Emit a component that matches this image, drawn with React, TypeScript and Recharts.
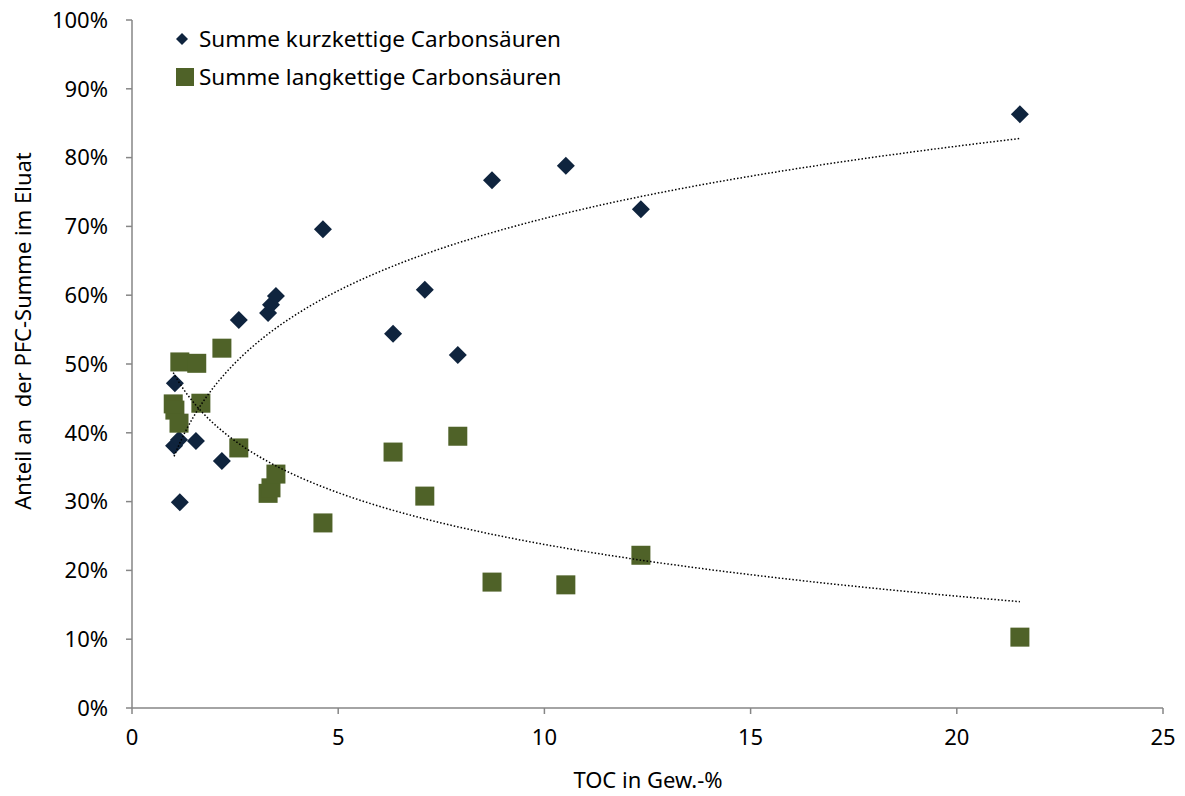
import React from 'react';
import { ScatterChart, Scatter, XAxis, YAxis, Label } from 'recharts';

// TOC (Gew.-%) und Anteil (%) – kurzkettige Carbonsäuren
const kurzX = [1.02, 1.04, 1.14, 1.16, 1.55, 2.18, 2.59, 3.3, 3.37, 3.49, 4.63, 6.33, 7.1, 7.9, 8.73, 10.52, 12.34, 21.53];
const kurzY = [38.1, 47.2, 39.0, 29.9, 38.8, 35.9, 56.4, 57.4, 58.6, 59.9, 69.6, 54.4, 60.8, 51.3, 76.7, 78.8, 72.5, 86.3];

// langkettige Carbonsäuren
const langX = [1.0, 1.04, 1.14, 1.16, 1.57, 1.67, 2.18, 2.59, 3.3, 3.37, 3.49, 4.63, 6.33, 7.1, 7.9, 8.73, 10.52, 12.34, 21.53];
const langY = [44.2, 43.3, 41.4, 50.3, 50.1, 44.3, 52.3, 37.8, 31.2, 32.0, 34.0, 26.9, 37.2, 30.8, 39.5, 18.3, 17.9, 22.2, 10.3];

const xTicks = [0, 5, 10, 15, 20, 25];
const yTicks = [0, 10, 20, 30, 40, 50, 60, 70, 80, 90, 100];

const NAVY = '#0f243e';
const OLIVE = '#4f6228';
const FONT = '"Noto Sans", sans-serif';
const FS = 22;

const toPoints = (xs: number[], ys: number[]) => xs.map((x, i) => ({ x, y: ys[i] }));

// logarithmische Trendlinie (kleinste Quadrate über ln x), wie in Excel
const logTrend = (xs: number[], ys: number[]) => {
  const lx = xs.map((x) => Math.log(x));
  const n = xs.length;
  const mx = lx.reduce((s, v) => s + v, 0) / n;
  const my = ys.reduce((s, v) => s + v, 0) / n;
  let num = 0;
  let den = 0;
  lx.forEach((v, i) => {
    num += (v - mx) * (ys[i] - my);
    den += (v - mx) * (v - mx);
  });
  const b = num / den;
  const a = my - b * mx;
  const lo = Math.min(...xs);
  const hi = Math.max(...xs);
  const pts = [];
  for (let i = 0; i <= 80; i++) {
    const x = lo * Math.pow(hi / lo, i / 80);
    pts.push({ x, y: a + b * Math.log(x) });
  }
  return pts;
};

const Diamond = (props: any) => {
  const { cx, cy } = props;
  return <path d={`M${cx},${cy - 9}L${cx + 9},${cy}L${cx},${cy + 9}L${cx - 9},${cy}Z`} fill={NAVY} />;
};

const Square = (props: any) => {
  const { cx, cy } = props;
  return <rect x={cx - 9.5} y={cy - 9.5} width={19} height={19} fill={OLIVE} />;
};

const NoDot = () => <g />;

const LegendBox = () => (
  <div
    style={{
      position: 'absolute',
      left: 175,
      top: 20,
      fontFamily: FONT,
      fontSize: 22.5,
      color: '#000',
      lineHeight: 1,
      whiteSpace: 'nowrap',
    }}
  >
    <div style={{ display: 'flex', alignItems: 'center', height: 38 }}>
      <svg width={20} height={20} style={{ marginRight: 4 }}>
        <path d="M7,4L13,10L7,16L1,10Z" fill={NAVY} />
      </svg>
      Summe kurzkettige Carbonsäuren
    </div>
    <div style={{ display: 'flex', alignItems: 'center', height: 38 }}>
      <svg width={20} height={20} style={{ marginRight: 4 }}>
        <rect x={1} y={1} width={18} height={18} fill={OLIVE} />
      </svg>
      Summe langkettige Carbonsäuren
    </div>
  </div>
);

export default function App() {
  const kurz = toPoints(kurzX, kurzY);
  const lang = toPoints(langX, langY);
  const trendKurz = logTrend(kurzX, kurzY);
  const trendLang = logTrend(langX, langY);
  const tickStyle = { fill: '#000', fontSize: FS, fontFamily: FONT };
  const axisLine = { stroke: '#868686', strokeWidth: 1.5 };
  const trendStyle = { stroke: '#000', strokeWidth: 1.5, strokeDasharray: '1.5 2' };

  return (
    <div style={{ position: 'absolute', left: 0, top: 0, width: 1185, height: 796, background: '#fff' }}>
      <ScatterChart width={1185} height={796} margin={{ top: 20, right: 22, bottom: 28, left: 0 }}>
        <XAxis
          type="number"
          dataKey="x"
          domain={[0, 25]}
          ticks={xTicks}
          tick={tickStyle}
          tickLine={axisLine}
          axisLine={axisLine}
          tickSize={6}
          tickMargin={15}
          height={60}
          allowDataOverflow
        >
          <Label
            content={() => (
              <text x={648} y={788} textAnchor="middle" fontSize={FS} fontFamily={FONT} fill="#000">
                TOC in Gew.-%
              </text>
            )}
          />
        </XAxis>
        <YAxis
          type="number"
          dataKey="y"
          domain={[0, 100]}
          ticks={yTicks}
          tickFormatter={(v) => `${v}%`}
          tick={tickStyle}
          tickLine={axisLine}
          axisLine={axisLine}
          tickSize={6}
          tickMargin={18}
          width={132}
        >
          <Label
            content={() => (
              <text
                x={31}
                y={331}
                transform="rotate(-90 31 331)"
                textAnchor="middle"
                fontSize={FS}
                fontFamily={FONT}
                fill="#000"
                style={{ whiteSpace: 'pre' }}
              >
                Anteil an  der PFC-Summe im Eluat
              </text>
            )}
          />
        </YAxis>
        <Scatter name="Summe kurzkettige Carbonsäuren" data={kurz} shape={<Diamond />} isAnimationActive={false} />
        <Scatter name="Summe langkettige Carbonsäuren" data={lang} shape={<Square />} isAnimationActive={false} />
        <Scatter data={trendKurz} line={trendStyle} lineType="joint" shape={<NoDot />} legendType="none" isAnimationActive={false} />
        <Scatter data={trendLang} line={trendStyle} lineType="joint" shape={<NoDot />} legendType="none" isAnimationActive={false} />
      </ScatterChart>
      <LegendBox />
    </div>
  );
}
